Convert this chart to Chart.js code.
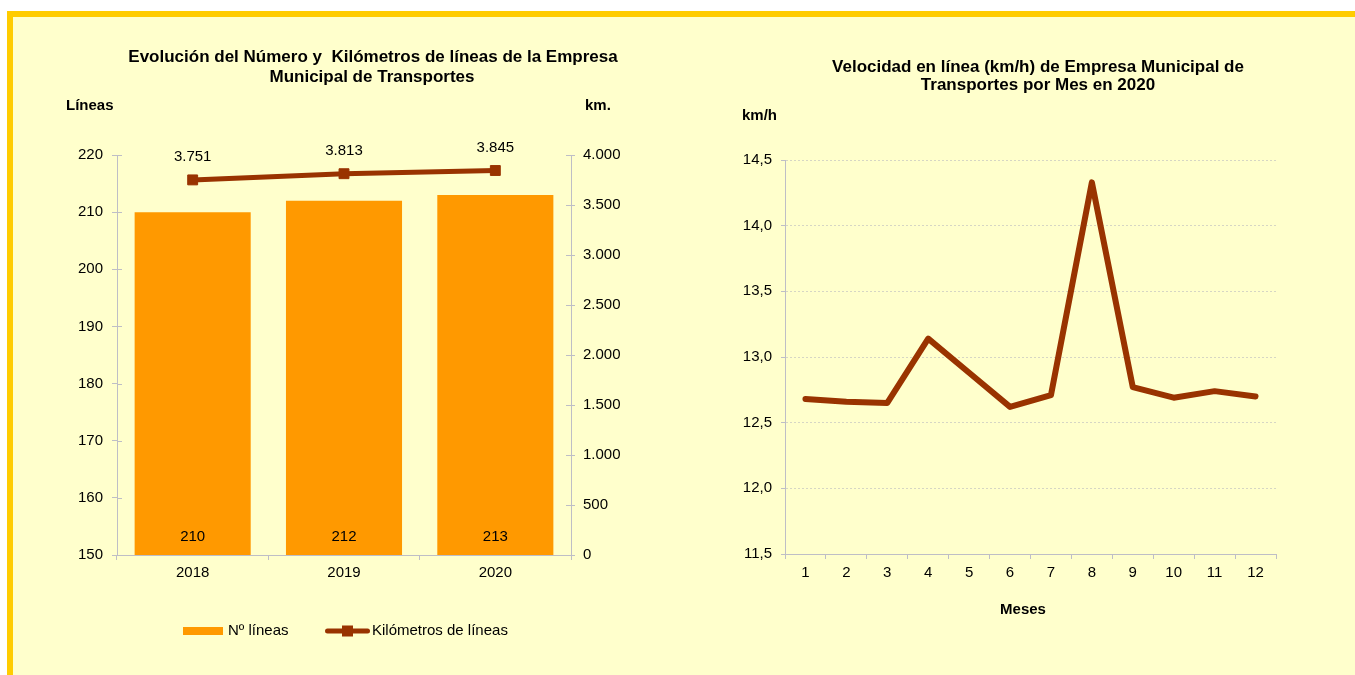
<!DOCTYPE html>
<html lang="es">
<head>
<meta charset="utf-8">
<title>Líneas y velocidad EMT 2020</title>
<script src="https://cdn.jsdelivr.net/npm/chart.js@4.4.1/dist/chart.umd.min.js"></script>
<style>
  html, body { margin: 0; padding: 0; background: #fff; }
  body { width: 1355px; height: 675px; position: relative; overflow: hidden; }
  #frame {
    position: absolute; left: 7px; top: 11px; right: -10px; bottom: -10px;
    background: #FFFFCC;
    border-top: 6px solid #FFCC00;
    border-left: 6px solid #FFCC00;
  }
  .box { position: absolute; }
  #boxLeft { left: 13px; top: 17px; width: 687px; height: 658px; }
  #boxRight { left: 700px; top: 17px; width: 655px; height: 658px; }
</style>
</head>
<body>
<div id="frame"></div>
<div class="box" id="boxLeft"><canvas id="chartLineas"></canvas></div>
<div class="box" id="boxRight"><canvas id="chartVelocidad"></canvas></div>

<script>
// Datos
const years = ['2018', '2019', '2020'];
const numLineas = [210, 212, 213];
const kmLineas = [3751, 3813, 3845];

const meses = ['1', '2', '3', '4', '5', '6', '7', '8', '9', '10', '11', '12'];
const velocidad = [12.68, 12.66, 12.65, 13.14, 12.88, 12.62, 12.71, 14.33, 12.77, 12.69, 12.74, 12.70];

const ORANGE = '#FF9900';
const BROWN = '#993300';
const AXIS = '#BEBEC6';
const FONT = "'Liberation Sans', Arial, sans-serif";
const TICK_SIZE = 15;
const TITLE_SIZE = 17;

Chart.defaults.font.family = FONT;
Chart.defaults.color = '#000';

// Spanish number formats
const fmtMiles = v => String(Math.round(v)).replace(/\B(?=(\d{3})+(?!\d))/g, '.');
const fmtDecimal = v => v.toFixed(1).replace('.', ',');

function text(ctx, str, x, y, opts) {
    ctx.save();
    ctx.font = (opts.bold ? 'bold ' : '') + (opts.size || TICK_SIZE) + 'px ' + FONT;
    ctx.fillStyle = '#000';
    ctx.textAlign = opts.align || 'left';
    ctx.textBaseline = 'middle';
    ctx.fillText(str, x, y);
    ctx.restore();
}

// Excel-style tick marks that cross the value axes
const crossTicks = {
    id: 'crossTicks',
    beforeDatasetsDraw(chart) {
        const ctx = chart.ctx;
        ctx.save();
        ctx.strokeStyle = AXIS;
        ctx.lineWidth = 1;
        const y = chart.scales.y;
        y.ticks.forEach((t, i) => {
            const py = Math.round(y.getPixelForTick(i)) + 0.5;
            ctx.beginPath();
            ctx.moveTo(y.right, py);
            ctx.lineTo(y.right + 5, py);
            ctx.stroke();
        });
        const y1 = chart.scales.y1;
        y1.ticks.forEach((t, i) => {
            const py = Math.round(y1.getPixelForTick(i)) + 0.5;
            ctx.beginPath();
            ctx.moveTo(y1.left - 5, py);
            ctx.lineTo(y1.left, py);
            ctx.stroke();
        });
        ctx.restore();
    }
};

// Titles, unit labels, data labels and legend for the left chart
const lineasExtras = {
    id: 'lineasExtras',
    afterDraw(chart) {
        const ctx = chart.ctx;
        text(ctx, 'Evolución del Número y  Kilómetros de líneas de la Empresa', 360, 40, { bold: true, align: 'center', size: TITLE_SIZE });
        text(ctx, 'Municipal de Transportes', 359, 60, { bold: true, align: 'center', size: TITLE_SIZE });
        text(ctx, 'Líneas', 53, 89, { bold: true });
        text(ctx, 'km.', 572, 89, { bold: true });

        // bar values near the base of each bar
        const yScale = chart.scales.y;
        const basePx = yScale.getPixelForValue(yScale.min);
        chart.getDatasetMeta(0).data.forEach((el, i) => {
            text(ctx, String(numLineas[i]), el.x, basePx - 18, { align: 'center' });
        });
        // line values above the points
        chart.getDatasetMeta(1).data.forEach((el, i) => {
            text(ctx, fmtMiles(kmLineas[i]), el.x, el.y - 23, { align: 'center' });
        });

        // legend
        ctx.save();
        ctx.fillStyle = ORANGE;
        ctx.fillRect(170, 610, 40, 8);
        ctx.strokeStyle = BROWN;
        ctx.lineWidth = 5;
        ctx.lineCap = 'round';
        ctx.beginPath();
        ctx.moveTo(314.5, 614);
        ctx.lineTo(354.5, 614);
        ctx.stroke();
        ctx.fillStyle = BROWN;
        ctx.fillRect(329, 608.5, 11, 11);
        ctx.restore();
        text(ctx, 'Nº líneas', 215, 614, {});
        text(ctx, 'Kilómetros de líneas', 359, 614, {});
    }
};

const velocidadExtras = {
    id: 'velocidadExtras',
    afterDraw(chart) {
        const ctx = chart.ctx;
        text(ctx, 'Velocidad en línea (km/h) de Empresa Municipal de', 338, 50, { bold: true, align: 'center', size: TITLE_SIZE });
        text(ctx, 'Transportes por Mes en 2020', 338, 68, { bold: true, align: 'center', size: TITLE_SIZE });
        text(ctx, 'km/h', 42, 99, { bold: true });
        text(ctx, 'Meses', 323, 593, { bold: true, align: 'center' });
    }
};

new Chart(document.getElementById('chartLineas'), {
    type: 'bar',
    data: {
        labels: years,
        datasets: [
            {
                label: 'Nº líneas',
                data: numLineas,
                backgroundColor: ORANGE,
                borderWidth: 0,
                categoryPercentage: 1,
                barPercentage: 0.767,
                yAxisID: 'y',
                order: 2
            },
            {
                type: 'line',
                label: 'Kilómetros de líneas',
                data: kmLineas,
                borderColor: BROWN,
                backgroundColor: BROWN,
                borderWidth: 5,
                pointStyle: 'rect',
                pointRadius: 7,
                pointBorderWidth: 1,
                pointBackgroundColor: BROWN,
                pointBorderColor: BROWN,
                tension: 0,
                yAxisID: 'y1',
                order: 1
            }
        ]
    },
    options: {
        responsive: true,
        maintainAspectRatio: false,
        animation: false,
        layout: { padding: { left: 0, top: 138, right: 69, bottom: 80 } },
        plugins: {
            legend: { display: false },
            title: { display: false },
            tooltip: { enabled: false }
        },
        scales: {
            x: {
                grid: { drawOnChartArea: false, offset: true, color: AXIS, tickLength: 5 },
                border: { color: AXIS },
                ticks: { color: '#000', font: { size: TICK_SIZE }, padding: 4 },
                afterFit: s => { s.height = 40; }
            },
            y: {
                position: 'left',
                min: 150,
                max: 220,
                ticks: { stepSize: 10, color: '#000', font: { size: TICK_SIZE }, padding: 9 },
                grid: { drawOnChartArea: false, color: AXIS, tickLength: 5 },
                border: { color: AXIS },
                afterFit: s => { s.width = 104; }
            },
            y1: {
                position: 'right',
                min: 0,
                max: 4000,
                ticks: { stepSize: 500, color: '#000', font: { size: TICK_SIZE }, padding: 8, callback: v => fmtMiles(v) },
                grid: { drawOnChartArea: false, color: AXIS, tickLength: 4 },
                border: { color: AXIS },
                afterFit: s => { s.width = 60; }
            }
        }
    },
    plugins: [crossTicks, lineasExtras]
});

new Chart(document.getElementById('chartVelocidad'), {
    type: 'line',
    data: {
        labels: meses,
        datasets: [{
            label: 'Velocidad (km/h)',
            data: velocidad,
            borderColor: BROWN,
            borderWidth: 6,
            borderCapStyle: 'round',
            borderJoinStyle: 'round',
            pointRadius: 0,
            tension: 0,
            fill: false
        }]
    },
    options: {
        responsive: true,
        maintainAspectRatio: false,
        animation: false,
        layout: { padding: { left: 0, top: 143, right: 79, bottom: 91 } },
        plugins: {
            legend: { display: false },
            title: { display: false },
            tooltip: { enabled: false }
        },
        scales: {
            x: {
                offset: true,
                grid: { drawOnChartArea: false, offset: true, color: AXIS, tickLength: 5 },
                border: { color: AXIS },
                ticks: { color: '#000', font: { size: TICK_SIZE }, padding: 5 },
                afterFit: s => { s.height = 30; }
            },
            y: {
                min: 11.5,
                max: 14.5,
                ticks: { stepSize: 0.5, color: '#000', font: { size: TICK_SIZE }, padding: 9, callback: v => fmtDecimal(v) },
                grid: { color: '#D6D6C4', tickColor: AXIS, tickLength: 4 },
                border: { color: AXIS, dash: [2, 2] },
                afterFit: s => { s.width = 85; }
            }
        }
    },
    plugins: [velocidadExtras]
});
</script>
</body>
</html>
